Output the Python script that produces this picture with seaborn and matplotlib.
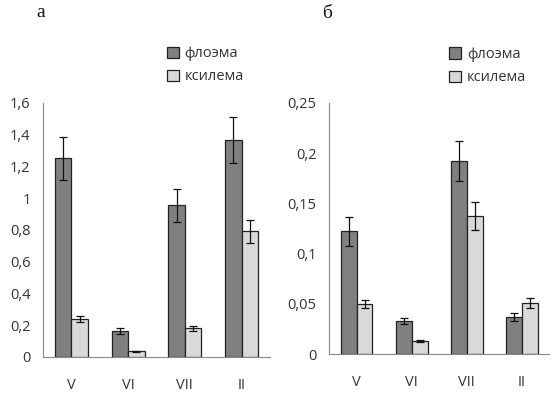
import pandas as pd
import numpy as np
import matplotlib.pyplot as plt
import matplotlib.ticker as mticker
from matplotlib.patches import Patch
import seaborn as sns

# данные
months = ['V', 'VI', 'VII', 'II']
tissues = ['флоэма', 'ксилема']

a_phloem = [1.25, 0.165, 0.955, 1.365]
a_phloem_err = [0.135, 0.02, 0.105, 0.145]
a_xylem = [0.24, 0.035, 0.18, 0.79]
a_xylem_err = [0.02, 0.005, 0.015, 0.07]

b_phloem = [0.122, 0.033, 0.192, 0.037]
b_phloem_err = [0.014, 0.003, 0.02, 0.004]
b_xylem = [0.05, 0.013, 0.137, 0.051]
b_xylem_err = [0.004, 0.001, 0.014, 0.005]

a_ticks = [0, 0.2, 0.4, 0.6, 0.8, 1, 1.2, 1.4, 1.6]
b_ticks = [0, 0.05, 0.1, 0.15, 0.2, 0.25]

sns.set_style('white')
plt.rcParams['font.family'] = ['Open Sans', 'DejaVu Sans']

colors = ['#808080', '#d9d9d9']
txt = '#333333'


def comma(v, pos):
    s = ('%.2f' % v).rstrip('0').rstrip('.')
    return s.replace('.', ',')


def panel(ax, ph, ph_err, xy, xy_err, ticks, letter):
    df = pd.DataFrame({
        'month': months * 2,
        'tissue': [tissues[0]] * 4 + [tissues[1]] * 4,
        'value': ph + xy,
        'err': ph_err + xy_err,
    })
    sns.barplot(data=df, x='month', y='value', hue='tissue', order=months,
                hue_order=tissues, palette=colors, errorbar=None, width=0.58,
                edgecolor='#222222', linewidth=0.9, ax=ax, legend=False)
    bars = ax.patches[:8]
    for p, e, v in zip(bars, df['err'], df['value']):
        xc = p.get_x() + p.get_width() / 2
        ax.errorbar(xc, v, yerr=e, fmt='none', ecolor='#111111',
                    elinewidth=0.9, capsize=3, capthick=0.9)
    ax.set_xlim(-0.5, 3.5)
    ax.set_ylim(0, ticks[-1])
    ax.set_yticks(ticks)
    ax.yaxis.set_major_formatter(mticker.FuncFormatter(comma))
    ax.set_xticks(range(4))
    ax.set_xticklabels(months)
    ax.set_xticks(np.arange(-0.5, 4, 1), minor=True)
    ax.tick_params(axis='x', which='major', length=0, pad=15, labelsize=10.5, colors=txt)
    ax.tick_params(axis='x', which='minor', length=5, width=0.8, color='#888888', direction='out')
    ax.tick_params(axis='y', length=4, width=0.8, color='#888888', direction='out',
                   labelsize=10.5, labelcolor=txt, pad=5)
    ax.set_xlabel('')
    ax.set_ylabel('')
    sns.despine(ax=ax)
    for s in ['left', 'bottom']:
        ax.spines[s].set_color('#888888')
        ax.spines[s].set_linewidth(0.8)
    handles = [Patch(facecolor=c, edgecolor='#222222', linewidth=0.9) for c in colors]
    ax.legend(handles, tissues, loc='upper left', bbox_to_anchor=(0.52, 1.245),
              frameon=False, fontsize=10.5, handlelength=0.8, handleheight=0.8,
              handletextpad=0.4, labelspacing=0.55, borderaxespad=0,
              labelcolor=txt)
    ax.text(-0.03, 1.355, letter, transform=ax.transAxes, fontsize=14,
            family='Liberation Serif', ha='left', va='center', color='#111111')


fig = plt.figure(figsize=(5.52, 3.94), dpi=100)
ax1 = fig.add_axes([0.078, 0.094, 0.411, 0.645])
ax2 = fig.add_axes([0.596, 0.1015, 0.399, 0.6375])

panel(ax1, a_phloem, a_phloem_err, a_xylem, a_xylem_err, a_ticks, 'а')
panel(ax2, b_phloem, b_phloem_err, b_xylem, b_xylem_err, b_ticks, 'б')

plt.savefig('out.png', dpi=100)
